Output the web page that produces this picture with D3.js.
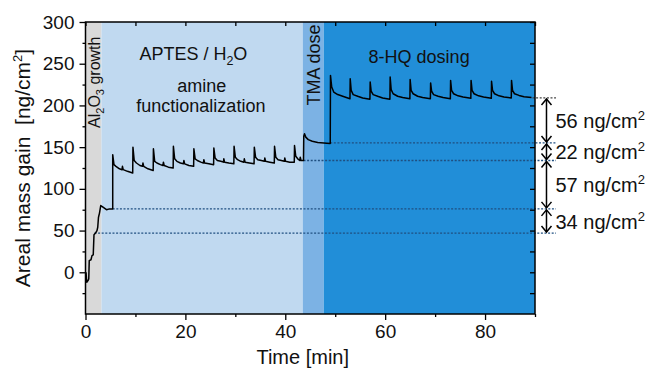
<!DOCTYPE html>
<html>
<head>
<meta charset="utf-8">
<script src="https://cdn.jsdelivr.net/npm/d3@7"></script>
<style>
  body { margin: 0; background: #fff; }
  svg text { font-family: Arial, "Liberation Sans", sans-serif; fill: #111; }
</style>
</head>
<body>
<div id="chart"></div>
<script>
/* Data */
const phaseStart = [0, 3.2, 43.5, 47.7];
const phaseEnd = [3.2, 43.5, 47.7, 90];

// Al2O3 growth
const alTrace = [
  [0.1, 0], [0.25, -12], [0.5, -10], [0.65, -8], [0.75, 14], [1.1, 15], [1.3, 20], [1.55, 21],
  [1.7, 45], [2.0, 47], [2.3, 50], [2.45, 54], [2.6, 66], [2.8, 71], [3.05, 80], [3.5, 78],
  [4.2, 75], [4.8, 76], [5.45, 76]
];

// APTES / H2O pulses
const aptesTrace = [
  [5.45, 141], [5.7, 129], [6.1, 127], [6.8, 124], [7.3, 123], [7.4, 127], [7.55, 123], [8.4, 121], [9.45, 119],
  [9.5, 150], [9.75, 134], [10.2, 131], [10.9, 128], [11.4, 127], [11.5, 131], [11.65, 127], [12.5, 124], [13.55, 122],
  [13.6, 148], [13.85, 133], [14.3, 131], [15.0, 129], [15.5, 128], [15.6, 132], [15.75, 128], [16.6, 126], [17.55, 125],
  [17.6, 151], [17.85, 136], [18.3, 133], [19.0, 131], [19.6, 130], [19.7, 134], [19.85, 130], [20.7, 128], [21.65, 127],
  [21.7, 148], [21.95, 136], [22.4, 134], [23.1, 132], [23.6, 131], [23.7, 135], [23.85, 131], [24.7, 130], [25.65, 129],
  [25.7, 149], [25.95, 137], [26.4, 134], [27.1, 133], [27.6, 132], [27.7, 136], [27.85, 132], [28.7, 131], [29.7, 130],
  [29.75, 151], [30.0, 138], [30.45, 135], [31.1, 133], [31.7, 132], [31.8, 136], [31.95, 132], [32.8, 131], [33.75, 130],
  [33.8, 150], [34.05, 138], [34.5, 135], [35.2, 134], [35.8, 133], [35.9, 137], [36.05, 133], [36.9, 132], [37.8, 131],
  [37.85, 151], [38.1, 138], [38.55, 135], [39.2, 134], [39.8, 133], [39.9, 137], [40.05, 133], [40.9, 132], [41.8, 132],
  [41.85, 152], [42.1, 139], [42.5, 136], [42.9, 134], [43.0, 138], [43.15, 134], [43.6, 134]
];

// TMA dose
const tmaTrace = [
  [43.65, 134], [43.7, 163], [43.85, 166], [44.1, 162], [44.6, 159], [45.4, 157], [46.5, 155.5], [48.95, 154.5]
];

// 8-HQ dosing
const hqTrace = [
  [49.0, 154.5], [49.05, 236], [49.3, 222], [49.7, 216], [50.5, 213], [51.5, 211], [52.95, 208],
  [53.0, 232], [53.2, 218], [53.6, 213], [54.5, 211], [55.5, 209], [56.95, 207.5],
  [57.0, 228], [57.2, 217], [57.6, 213], [58.5, 211], [59.5, 209], [60.95, 207.5],
  [61.0, 234], [61.2, 219], [61.6, 214], [62.5, 211], [63.5, 209.5], [64.95, 208],
  [65.0, 231], [65.2, 218], [65.6, 214], [66.5, 211], [67.5, 209.5], [69.05, 208],
  [69.1, 227], [69.3, 217], [69.7, 213], [70.6, 211], [71.6, 209.5], [73.05, 208],
  [73.1, 230], [73.3, 218], [73.7, 214], [74.6, 211.5], [75.6, 210], [77.15, 208.5],
  [77.2, 230], [77.4, 218], [77.8, 214], [78.7, 211.5], [79.7, 210], [81.25, 208.5],
  [81.3, 229], [81.5, 218], [81.9, 214], [82.8, 211.5], [83.8, 210], [85.25, 209],
  [85.3, 230], [85.5, 218], [85.9, 214], [86.8, 212], [87.8, 210.5], [89.3, 209.5]
];

// dotted reference levels and the steps between them
const levels = [47, 76, 134, 155, 209];
const levelStart = [1.8, 5.45, 43.65, 49.0, 89.5];
const stepLabels = ["34", "57", "22", "56"];

const xTicks = [0, 20, 40, 60, 80];
const xMinor = [10, 30, 50, 70, 90];
const yTicks = [0, 50, 100, 150, 200, 250, 300];
const yMinor = [-25, 25, 75, 125, 175, 225, 275];

/* Chart */
const width = 654, height = 368;
const svg = d3.select("#chart").append("svg")
  .attr("width", width)
  .attr("height", height);

const x = d3.scaleLinear().domain([0, 90]).range([85.5, 535]);
const y = d3.scaleLinear().domain([-50, 300]).range([314, 22]);

const phaseColor = ["#d9d9d9", "#c0d9f0", "#7cb2e4", "#218ed8"];
svg.selectAll(".phase")
  .data(phaseStart)
  .enter()
  .append("rect")
  .attr("class", "phase")
  .attr("x", (d, i) => x(d))
  .attr("y", y(300))
  .attr("width", (d, i) => x(phaseEnd[i]) - x(d))
  .attr("height", y(-50) - y(300))
  .attr("fill", (d, i) => phaseColor[i]);

/* Dotted levels */
svg.selectAll(".level")
  .data(levels)
  .enter()
  .append("line")
  .attr("class", "level")
  .attr("x1", (d, i) => x(levelStart[i]))
  .attr("x2", x(94.2))
  .attr("y1", d => y(d))
  .attr("y2", d => y(d))
  .attr("stroke", (d, i) => i === 4 ? "#444" : "#1f4f80")
  .attr("stroke-width", 1.3)
  .attr("stroke-dasharray", "2,1.6");

/* Trace */
const trace = alTrace.concat(aptesTrace, tmaTrace, hqTrace);
const line = d3.line().x(d => x(d[0])).y(d => y(d[1]));
svg.append("path")
  .datum(trace)
  .attr("fill", "none")
  .attr("stroke", "#000")
  .attr("stroke-width", 1.5)
  .attr("stroke-linejoin", "round")
  .attr("d", line);

/* Axes */
function styleAxis(g) {
  g.select(".domain").remove();
  g.selectAll(".tick line").attr("stroke", "#000").attr("stroke-width", 1.3);
  g.selectAll(".tick text")
    .attr("font-size", "19px")
    .attr("font-family", "Arial, 'Liberation Sans', sans-serif")
    .attr("fill", "#111");
}

svg.append("g").attr("transform", `translate(0,${y(-50)})`)
  .call(d3.axisBottom(x).tickValues(xTicks).tickSize(6).tickPadding(5))
  .call(styleAxis);
svg.append("g").attr("transform", `translate(0,${y(-50)})`)
  .call(d3.axisBottom(x).tickValues(xMinor).tickSize(3).tickFormat(""))
  .call(styleAxis);
svg.append("g").attr("transform", `translate(0,${y(300)})`)
  .call(d3.axisTop(x).tickValues(xTicks.concat(xMinor)).tickSize(-4).tickFormat(""))
  .call(styleAxis);

svg.append("g").attr("transform", `translate(${x(0)},0)`)
  .call(d3.axisLeft(y).tickValues(yTicks).tickSize(6).tickPadding(5))
  .call(styleAxis);
svg.append("g").attr("transform", `translate(${x(0)},0)`)
  .call(d3.axisLeft(y).tickValues(yMinor).tickSize(3).tickFormat(""))
  .call(styleAxis);
svg.append("g").attr("transform", `translate(${x(90)},0)`)
  .call(d3.axisRight(y).tickValues(yTicks.concat(yMinor)).tickSize(-5).tickFormat(""))
  .call(styleAxis);

svg.append("rect")
  .attr("x", x(0))
  .attr("y", y(300))
  .attr("width", x(90) - x(0))
  .attr("height", y(-50) - y(300))
  .attr("fill", "none")
  .attr("stroke", "#000")
  .attr("stroke-width", 1.5);

/* Axis titles */
svg.append("text")
  .attr("x", x(43.5))
  .attr("y", 364)
  .attr("text-anchor", "middle")
  .attr("font-size", "20px")
  .text("Time [min]");

const yTitle = svg.append("text")
  .attr("transform", `translate(29.5,${y(125)}) rotate(-90)`)
  .attr("text-anchor", "middle")
  .attr("font-size", "21px")
  .attr("xml:space", "preserve");
yTitle.append("tspan").text("Areal mass gain  [ng/cm");
yTitle.append("tspan").attr("font-size", "13px").attr("dy", -8).text("2");
yTitle.append("tspan").attr("dy", 8).text("]");

/* Phase labels */
const alLabel = svg.append("text")
  .attr("transform", `translate(99.5,${y(173)}) rotate(-90)`)
  .attr("font-size", "16px");
alLabel.append("tspan").text("Al");
alLabel.append("tspan").attr("font-size", "11px").attr("dy", 4).text("2");
alLabel.append("tspan").attr("dy", -4).text("O");
alLabel.append("tspan").attr("font-size", "11px").attr("dy", 4).text("3");
alLabel.append("tspan").attr("dy", -4).text(" growth");

const aptes = svg.append("text")
  .attr("x", x(21.6))
  .attr("y", y(254))
  .attr("text-anchor", "middle")
  .attr("font-size", "18px");
aptes.append("tspan").text("APTES / H");
aptes.append("tspan").attr("font-size", "12.5px").attr("dy", 5).text("2");
aptes.append("tspan").attr("dy", -5).text("O");

svg.append("text")
  .attr("x", x(23.3))
  .attr("y", y(215.5))
  .attr("text-anchor", "middle")
  .attr("font-size", "18px")
  .text("amine");
svg.append("text")
  .attr("x", x(23.1))
  .attr("y", y(192.5))
  .attr("text-anchor", "middle")
  .attr("font-size", "18px")
  .text("functionalization");

svg.append("text")
  .attr("transform", `translate(${x(47)},${y(297)}) rotate(-90)`)
  .attr("text-anchor", "end")
  .attr("font-size", "18px")
  .text("TMA dose");

svg.append("text")
  .attr("x", x(66.8))
  .attr("y", y(250.5))
  .attr("text-anchor", "middle")
  .attr("font-size", "18px")
  .text("8-HQ dosing");

/* Step annotations */
const ax = x(92.3);
stepLabels.forEach((label, i) => {
  const y0 = y(levels[i]), y1 = y(levels[i + 1]);
  const g = svg.append("g");
  g.append("line")
    .attr("x1", ax).attr("x2", ax)
    .attr("y1", y1 + 1).attr("y2", y0 - 1)
    .attr("stroke", "#000")
    .attr("stroke-width", 1.5);
  g.append("path")
    .attr("d", `M${ax - 5},${y1 + 7}L${ax},${y1 + 1}L${ax + 5},${y1 + 7}`)
    .attr("fill", "none").attr("stroke", "#000").attr("stroke-width", 1.5);
  g.append("path")
    .attr("d", `M${ax - 5},${y0 - 7}L${ax},${y0 - 1}L${ax + 5},${y0 - 7}`)
    .attr("fill", "none").attr("stroke", "#000").attr("stroke-width", 1.5);
  const t = g.append("text")
    .attr("x", ax + 9)
    .attr("y", (y0 + y1) / 2)
    .attr("dy", "0.38em")
    .attr("font-size", "20px");
  t.append("tspan").text(label + " ng/cm");
  t.append("tspan").attr("font-size", "13px").attr("dy", -8).text("2");
});
</script>
</body>
</html>
